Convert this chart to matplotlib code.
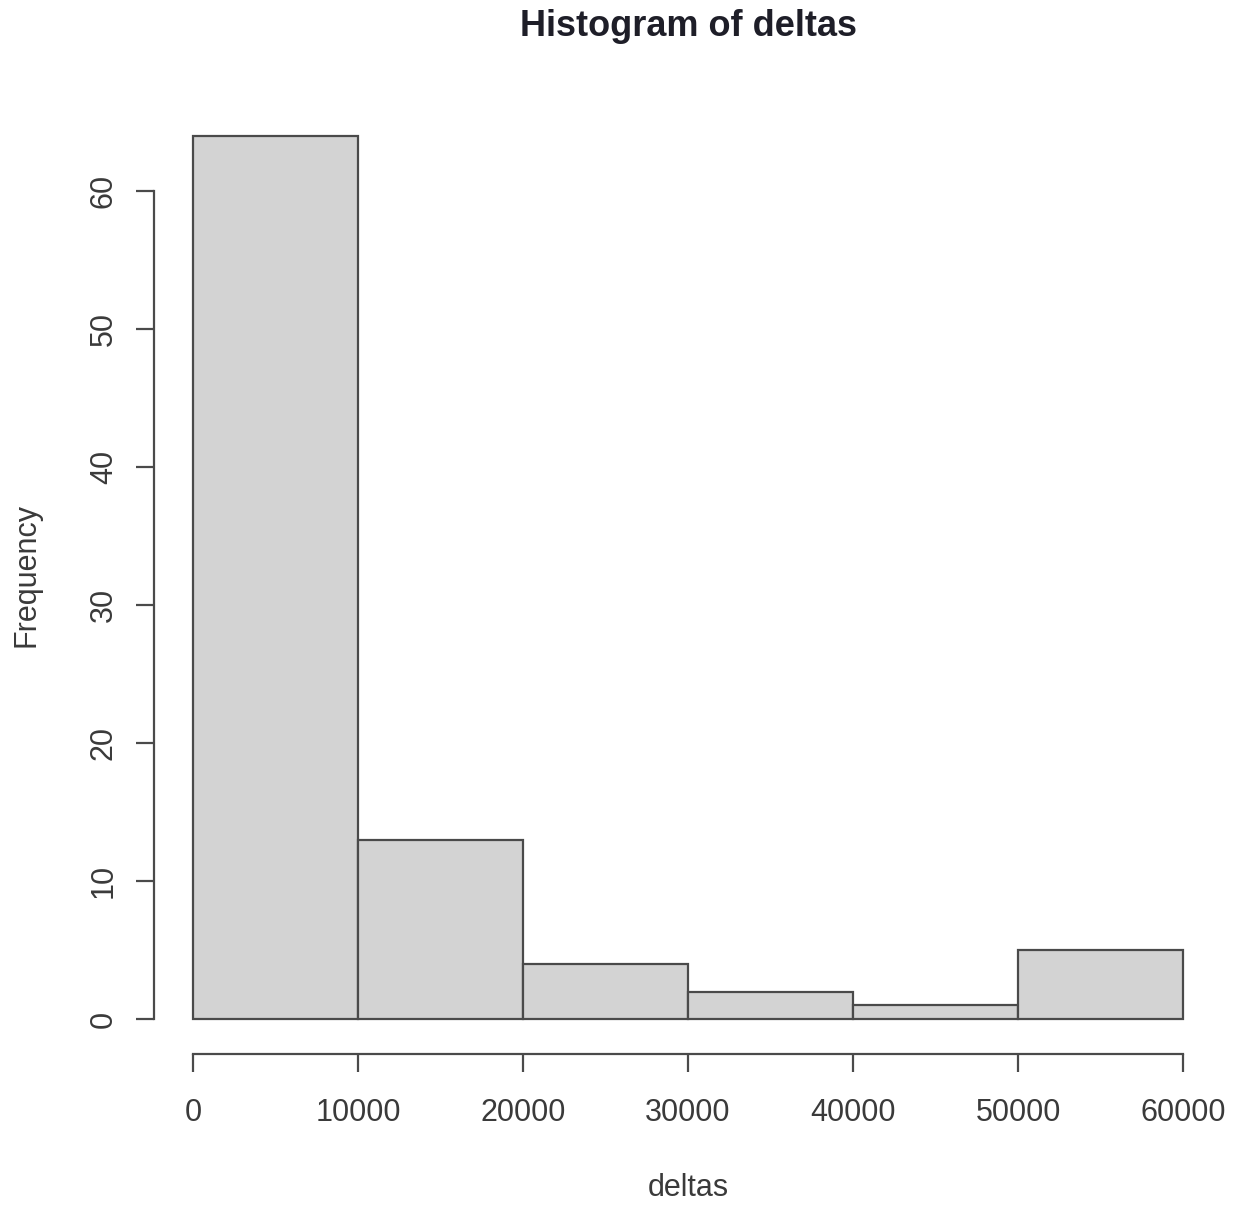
"""Recreate an R-style base-graphics histogram of deltas."""

import matplotlib

matplotlib.use("Agg")

import matplotlib.pyplot as plt

BIN_EDGES = [0, 10000, 20000, 30000, 40000, 50000, 60000]
COUNTS = [64, 13, 4, 2, 1, 5]
X_TICKS = [0, 10000, 20000, 30000, 40000, 50000, 60000]
Y_TICKS = [0, 10, 20, 30, 40, 50, 60]

LINE_COLOR = "#4a4a4a"
TEXT_COLOR = "#3a3a3a"

plt.rcParams["font.family"] = ["Liberation Sans", "DejaVu Sans"]

fig = plt.figure(figsize=(12.38, 12.05), dpi=100, facecolor="white")
ax = fig.add_axes([0.124, 0.1249, 0.8636, 0.7917])

widths = [b - a for a, b in zip(BIN_EDGES[:-1], BIN_EDGES[1:])]
ax.bar(
    BIN_EDGES[:-1],
    COUNTS,
    width=widths,
    align="edge",
    color="#d3d3d3",
    edgecolor=LINE_COLOR,
    linewidth=1.6,
)

# R extends the data range by 4% on each side and draws detached axes
span_x = BIN_EDGES[-1] - BIN_EDGES[0]
span_y = max(COUNTS)
ax.set_xlim(BIN_EDGES[0] - 0.04 * span_x, BIN_EDGES[-1] + 0.04 * span_x)
ax.set_ylim(-0.04 * span_y, span_y * 1.04)

for side in ("top", "right"):
    ax.spines[side].set_visible(False)
ax.spines["left"].set_bounds(Y_TICKS[0], Y_TICKS[-1])
ax.spines["bottom"].set_bounds(X_TICKS[0], X_TICKS[-1])
for side in ("left", "bottom"):
    ax.spines[side].set_color(LINE_COLOR)
    ax.spines[side].set_linewidth(1.6)

ax.set_xticks(X_TICKS)
ax.set_yticks(Y_TICKS)
ax.tick_params(length=13, width=1.6, color=LINE_COLOR, labelsize=22,
               labelcolor=TEXT_COLOR)
ax.tick_params(axis="x", pad=18)
ax.tick_params(axis="y", pad=12)
for label in ax.get_yticklabels():
    label.set_rotation(90)
    label.set_va("center")

fig.text(688 / 1238, 1 - 27 / 1205, "Histogram of deltas", ha="center",
         va="center", fontsize=26, fontweight="bold", color="#1e1e28")
fig.text(688 / 1238, 1 - 1188 / 1205, "deltas", ha="center", va="center",
         fontsize=22, color=TEXT_COLOR)
fig.text(27 / 1238, 1 - 575 / 1205, "Frequency", ha="center", va="center",
         rotation=90, fontsize=22, color=TEXT_COLOR)

fig.savefig("out.png", dpi=100, facecolor="white")
plt.close(fig)
